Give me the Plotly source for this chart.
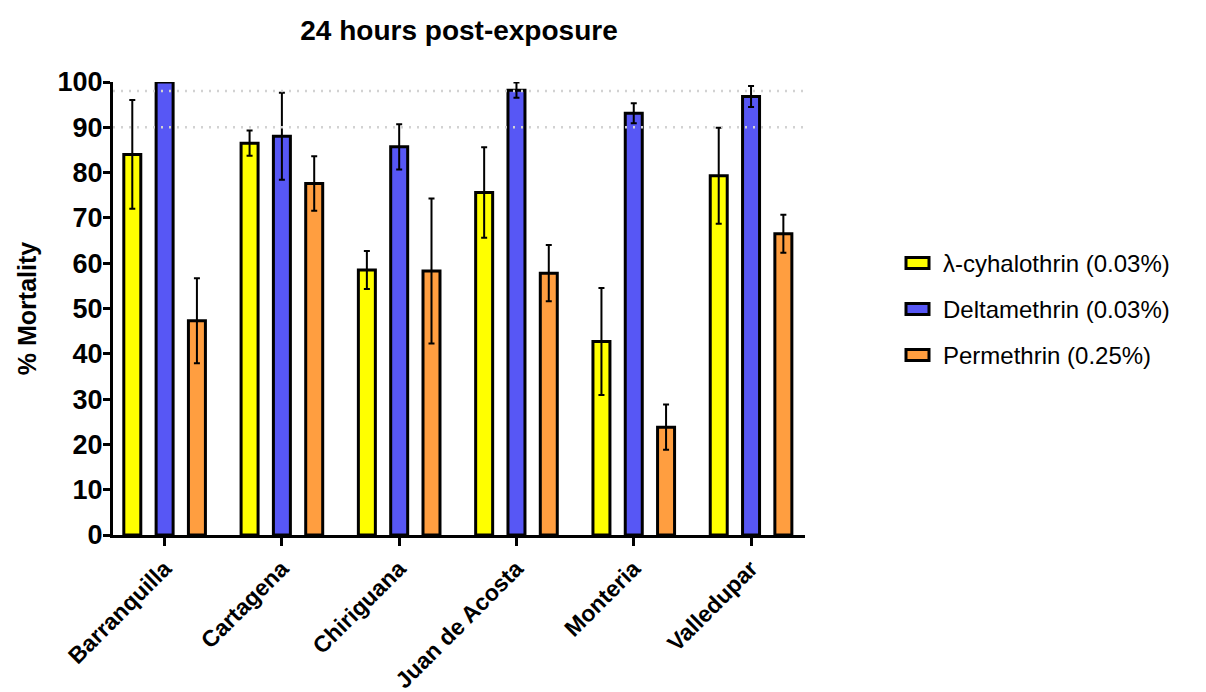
import plotly.graph_objects as go

# Collection sites (x categories)
sites = ["Barranquilla", "Cartagena", "Chiriguana", "Juan de Acosta", "Monteria", "Valledupar"]

# Mean % mortality at 24 h and error (SD) per insecticide
lambda_cyhalothrin = [84.0, 86.5, 58.5, 75.6, 42.7, 79.3]
lambda_cyhalothrin_err = [12.0, 2.8, 4.2, 10.0, 11.8, 10.6]
deltamethrin = [100.0, 88.0, 85.7, 98.2, 93.1, 96.8]
deltamethrin_err = [0.0, 9.6, 5.0, 1.7, 2.2, 2.3]
permethrin = [47.3, 77.6, 58.3, 57.8, 23.8, 66.5]
permethrin_err = [9.4, 6.0, 16.0, 6.2, 5.0, 4.2]

series_names = ["λ-cyhalothrin (0.03%)", "Deltamethrin (0.03%)", "Permethrin (0.25%)"]
series_values = [lambda_cyhalothrin, deltamethrin, permethrin]
series_errors = [lambda_cyhalothrin_err, deltamethrin_err, permethrin_err]
colors = ["#FFFF00", "#5757F5", "#FF9E40"]

# WHO susceptibility thresholds (% mortality)
thresholds = [98, 90]

W, H = 1206, 692
L, R, T, B = 113, 401, 82, 157
plot_w = W - L - R
plot_h = H - T - B

FONT = "Liberation Sans, Arial, sans-serif"

fig = go.Figure()
for name, vals, errs, col in zip(series_names, series_values, series_errors, colors):
    fig.add_trace(go.Bar(
        x=sites, y=vals, name=name,
        marker=dict(color=col, line=dict(color="black", width=3)),
        error_y=dict(type="data", array=errs, visible=True,
                     color="black", thickness=2, width=3),
        showlegend=False,
    ))

# Dotted threshold lines
for t in thresholds:
    fig.add_shape(type="line", xref="paper", yref="y", x0=0, x1=1, y0=t, y1=t,
                  line=dict(color="#d2d2d2", width=2.5, dash="2px,6px"), layer="above")

# Legend drawn as swatches + labels to the right of the plot
def px_x(px):
    return (px - L) / plot_w

def px_y(py):
    return (H - B - py) / plot_h

legend_rows = [263, 309, 355]
for name, col, yc in zip(series_names, colors, legend_rows):
    fig.add_shape(type="rect", xref="paper", yref="paper",
                  x0=px_x(906), x1=px_x(929), y0=px_y(yc + 5.5), y1=px_y(yc - 5.5),
                  fillcolor=col, line=dict(color="black", width=3))
    fig.add_annotation(xref="paper", yref="paper", x=px_x(941), y=px_y(yc),
                       text=name, showarrow=False, xanchor="left", yanchor="middle",
                       font=dict(family=FONT, size=24, color="black"))

fig.update_layout(
    width=W, height=H,
    margin=dict(l=L, r=R, t=T, b=B, autoexpand=False),
    paper_bgcolor="white", plot_bgcolor="white",
    barmode="group", bargap=0.1735, bargroupgap=0.474,
    title=dict(text="24 hours post-exposure", x=(L + plot_w / 2) / W, xanchor="center",
               y=1 - 30 / H, yanchor="middle", yref="container",
               font=dict(family=FONT, size=28, color="black", weight="bold")),
    font=dict(family=FONT, color="black"),
)

fig.update_xaxes(
    range=[-0.44, 5.46], showgrid=False, zeroline=False, automargin=False,
    showline=True, linecolor="black", linewidth=3,
    ticks="outside", ticklen=8, tickwidth=3, tickcolor="black",
    tickangle=-45, tickfont=dict(family=FONT, size=23, color="black", weight="bold"),
)
fig.update_yaxes(
    range=[0, 100], tickmode="linear", tick0=0, dtick=10,
    showgrid=False, zeroline=False, automargin=False,
    showline=True, linecolor="black", linewidth=3,
    ticks="outside", ticklen=7, tickwidth=3, tickcolor="black",
    ticklabelstandoff=-5,
    tickfont=dict(family=FONT, size=27, color="black", weight="bold"),
    title=dict(text="% Mortality", standoff=14,
               font=dict(family=FONT, size=25, color="black", weight="bold")),
)

fig.write_html("out.html")
